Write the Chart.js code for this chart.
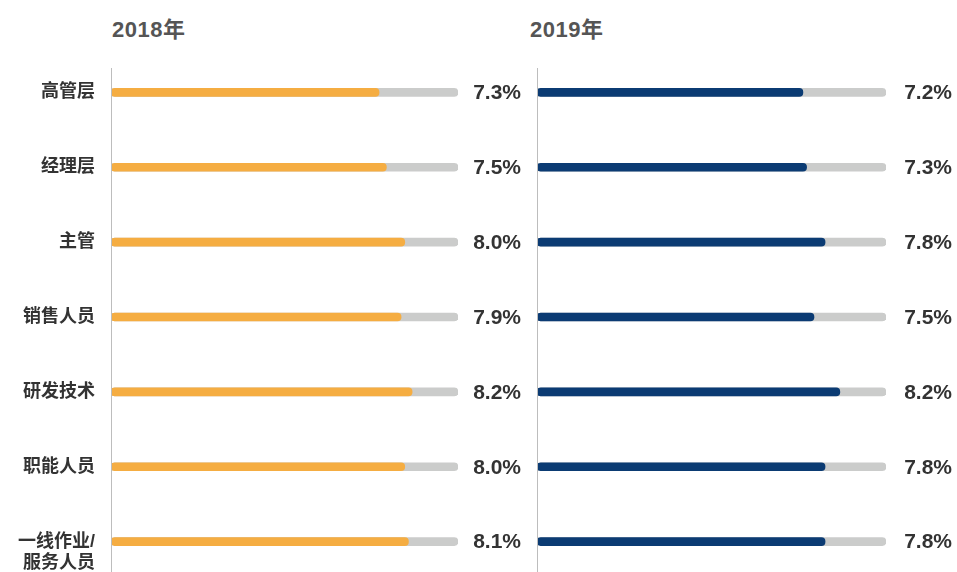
<!DOCTYPE html>
<html>
  <head>
    <script src="https://cdn.jsdelivr.net/npm/chart.js@4"></script>
    <style>
      body { margin: 0; width: 957px; height: 572px; overflow: hidden; background: #fff; position: relative; }
      .panel { position: absolute; top: 0; }
      .title { position: absolute; top: 11px; font: bold 22px "Liberation Sans", "Noto Sans CJK SC", sans-serif; letter-spacing: 0.5px; color: #555; }
    </style>
  </head>

  <body>
    <div class="title" style="left: 112px">2018年</div>
    <div class="title" style="left: 530px">2019年</div>
    <div class="panel" style="left: 0; width: 530px; height: 580px"><canvas id="c2018"></canvas></div>
    <div class="panel" style="left: 430px; width: 527px; height: 580px"><canvas id="c2019"></canvas></div>
    <script>
      const categories = ['高管层', '经理层', '主管', '销售人员', '研发技术', '职能人员', ['', '一线作业/', '服务人员']];
      const values2018 = [7.3, 7.5, 8.0, 7.9, 8.2, 8.0, 8.1];
      const values2019 = [7.2, 7.3, 7.8, 7.5, 8.2, 7.8, 7.8];
      const trackMax = 9.45;

      const font = '"Liberation Sans", "Noto Sans CJK SC", sans-serif';

      // value text on the right + axis line from y=68 down
      const extras = {
        id: 'extras',
        afterDraw(chart, args, opts) {
          const { ctx, chartArea } = chart;
          ctx.save();
          ctx.strokeStyle = '#bdbdbd';
          ctx.lineWidth = 1;
          ctx.beginPath();
          ctx.moveTo(chartArea.left + 0.5, 68);
          ctx.lineTo(chartArea.left + 0.5, chart.height);
          ctx.stroke();

          const meta = chart.getDatasetMeta(0);
          ctx.fillStyle = '#333';
          ctx.font = 'bold 21px ' + font;
          ctx.textAlign = 'right';
          ctx.textBaseline = 'middle';
          meta.data.forEach((bar, i) => {
            ctx.fillText(chart.data.datasets[0].data[i].toFixed(1) + '%', opts.textRight, bar.y + 1);
          });
          ctx.restore();
        }
      };

      function makeChart(id, values, color, showLabels, padLeft, padRight, textRight) {
        return new Chart(document.getElementById(id), {
          type: 'bar',
          data: {
            labels: categories,
            datasets: [
              {
                data: values,
                backgroundColor: color,
                barThickness: 8,
                borderRadius: 4,
                borderSkipped: false,
                grouped: false,
                order: 1,
              },
              {
                data: categories.map(() => trackMax),
                backgroundColor: '#cbcccb',
                barThickness: 8,
                borderRadius: 4,
                borderSkipped: false,
                grouped: false,
                order: 2,
              },
            ],
          },
          options: {
            indexAxis: 'y',
            responsive: true,
            maintainAspectRatio: false,
            animation: false,
            layout: { padding: { top: 55, bottom: 1, right: padRight, left: 0 } },
            plugins: {
              legend: { display: false },
              tooltip: { enabled: false },
              extras: { textRight },
            },
            scales: {
              x: { display: false, min: 0, max: trackMax },
              y: {
                grid: { display: false, drawTicks: false },
                border: { display: false },
                ticks: {
                  display: showLabels,
                  padding: 16,
                  color: '#333',
                  font: { family: font, size: 18, weight: 'bold', lineHeight: 1.17 },
                },
                afterFit(scale) {
                  scale.width = padLeft;
                  scale.paddingTop = 0;
                  scale.paddingBottom = 0;
                },
              },
            },
          },
          plugins: [extras],
        });
      }

      makeChart('c2018', values2018, '#f5ad42', true, 111, 72, 521);
      makeChart('c2019', values2019, '#0b3b73', false, 107, 71, 522);
    </script>
  </body>
</html>
